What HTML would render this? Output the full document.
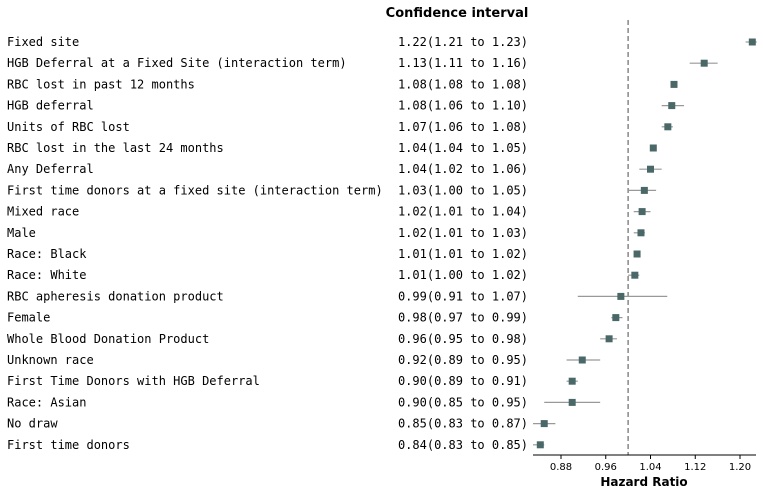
<!DOCTYPE html>
<html><head><meta charset="utf-8"><style>
body{margin:0;background:#fff;width:763px;height:496px;overflow:hidden;}
svg text{font-family:"DejaVu Sans Mono",monospace;font-size:12px;fill:#000;}
</style></head><body>
<svg id="chart" width="763" height="496">
<text x="457" y="17" text-anchor="middle" style="font-family:'DejaVu Sans',sans-serif;font-weight:bold;font-size:13px">Confidence interval</text>
<g id="rows"></g>
<line x1="533" x2="756" y1="455" y2="455" stroke="#000" stroke-width="1"/>
<g id="ticks"></g>
<text x="644" y="486" text-anchor="middle" style="font-family:'DejaVu Sans',sans-serif;font-weight:bold;font-size:12px">Hazard Ratio</text>
</svg>
<script>
const labels=["Fixed site","HGB Deferral at a Fixed Site (interaction term)","RBC lost in past 12 months","HGB deferral","Units of RBC lost","RBC lost in the last 24 months","Any Deferral","First time donors at a fixed site (interaction term)","Mixed race","Male","Race: Black","Race: White","RBC apheresis donation product","Female","Whole Blood Donation Product","Unknown race","First Time Donors with HGB Deferral","Race: Asian","No draw","First time donors"];
const hr=[1.222,1.136,1.082,1.078,1.071,1.045,1.040,1.029,1.025,1.023,1.016,1.012,0.987,0.978,0.966,0.918,0.900,0.900,0.850,0.843];
const lo=[1.21,1.11,1.08,1.06,1.06,1.04,1.02,1.00,1.01,1.01,1.01,1.00,0.91,0.97,0.95,0.89,0.89,0.85,0.83,0.83];
const hi=[1.23,1.16,1.08,1.10,1.08,1.05,1.06,1.05,1.04,1.03,1.02,1.02,1.07,0.99,0.98,0.95,0.91,0.95,0.87,0.85];
const ciText=["1.22(1.21 to 1.23)","1.13(1.11 to 1.16)","1.08(1.08 to 1.08)","1.08(1.06 to 1.10)","1.07(1.06 to 1.08)","1.04(1.04 to 1.05)","1.04(1.02 to 1.06)","1.03(1.00 to 1.05)","1.02(1.01 to 1.04)","1.02(1.01 to 1.03)","1.01(1.01 to 1.02)","1.01(1.00 to 1.02)","0.99(0.91 to 1.07)","0.98(0.97 to 0.99)","0.96(0.95 to 0.98)","0.92(0.89 to 0.95)","0.90(0.89 to 0.91)","0.90(0.85 to 0.95)","0.85(0.83 to 0.87)","0.84(0.83 to 0.85)"];
const tickVals=[0.88,0.96,1.04,1.12,1.20];
const tickLabels=["0.88","0.96","1.04","1.12","1.20"];
const refValue=1.0;

const NS="http://www.w3.org/2000/svg";
const xScale=v=>561+(v-0.88)*(179/0.32);
const clampX=p=>Math.max(533,Math.min(757,p));
const yScale=i=>42+i*21.2;
const rows=document.getElementById('rows');
function mk(tag,attrs,parent){const e=document.createElementNS(NS,tag);for(const k in attrs)e.setAttribute(k,attrs[k]);parent.appendChild(e);return e;}
const ref=mk('line',{x1:xScale(refValue),x2:xScale(refValue),y1:20,y2:455,stroke:'#888','stroke-width':1.5,'stroke-dasharray':'5,3'},rows);


labels.forEach((l,i)=>{
  const y=yScale(i);
  const t=mk('text',{x:7,y:y+4},rows);t.textContent=l;
  
  
  const c=mk('text',{x:528,y:y+4,'text-anchor':'end'},rows);c.textContent=ciText[i];
  
  
  const e=mk('line',{x1:clampX(xScale(lo[i])),x2:clampX(xScale(hi[i])),y1:y,y2:y,stroke:'#999','stroke-width':1.2},rows);
  
  
  const p=mk('rect',{x:xScale(hr[i])-3.5,y:y-3.5,width:7,height:7,fill:'#4a6868'},rows);
  
  
});
const tg=document.getElementById('ticks');
tickVals.forEach((v,i)=>{
  const x=xScale(v);
  const tl=mk('line',{x1:x,x2:x,y1:455,y2:459,stroke:'#000'},tg);
  
  
  const tt=mk('text',{x:x,y:470,'text-anchor':'middle',style:"font-family:'DejaVu Sans',sans-serif;font-size:10px"},tg);
  tt.textContent=tickLabels[i];
  
  
});
</script>
</body></html>
